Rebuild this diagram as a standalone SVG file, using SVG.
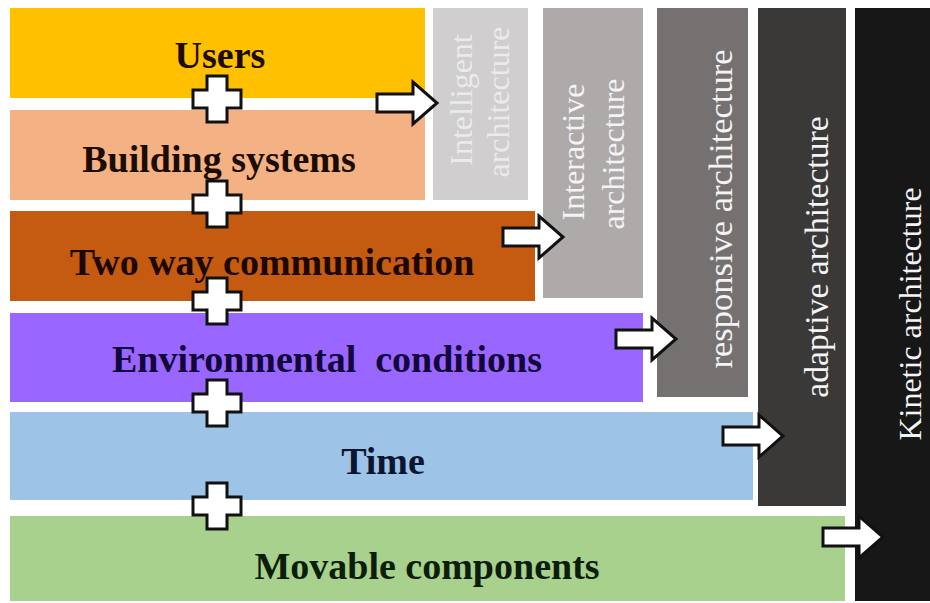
<svg xmlns="http://www.w3.org/2000/svg" width="930" height="603" viewBox="0 0 930 603">
  <style>
    .lbl { font-family: "Liberation Serif", "Times New Roman", serif; font-weight: bold; font-size: 38px; text-anchor: middle; }
    .vlbl { font-family: "Liberation Serif", "Times New Roman", serif; font-size: 32px; text-anchor: middle; fill: #f4f4f4; }
    .faint { fill: #ebebeb; }
    .plus, .arrow { fill: #ffffff; stroke: #111111; stroke-width: 3; stroke-linejoin: miter; }
  </style>
  <defs>
    <path id="plus-shape" d="M -10,-23 H 10 V -9 H 24 V 9 H 10 V 23 H -10 V 9 H -24 V -9 H -10 Z"/>
    <path id="arrow-shape" d="M -60,-9 H -24 V -21 L 0,0 L -24,21 V 9 H -60 Z"/>
  </defs>
  <rect width="930" height="603" fill="#ffffff"/>

  <!-- vertical architecture columns -->
  <g id="kinetic">
    <rect x="855" y="8" width="75" height="593" fill="#171717"/>
    <text class="vlbl" transform="translate(921,314) rotate(-90)">Kinetic architecture</text>
  </g>
  <g id="adaptive">
    <rect x="758" y="8" width="88" height="498" fill="#3b3838"/>
    <text class="vlbl" style="font-size:33.7px" transform="translate(828,257) rotate(-90)">adaptive architecture</text>
  </g>
  <g id="responsive">
    <rect x="657" y="8" width="91" height="389" fill="#767171"/>
    <text class="vlbl" style="font-size:34.5px" transform="translate(732,209) rotate(-90)">responsive architecture</text>
  </g>
  <g id="interactive">
    <rect x="543" y="8" width="100" height="290" fill="#aeaaaa"/>
    <text class="vlbl" transform="translate(584,152) rotate(-90)">Interactive</text>
    <text class="vlbl" transform="translate(624,154) rotate(-90)">architecture</text>
  </g>
  <g id="intelligent">
    <rect x="433" y="8" width="95" height="192" fill="#d0cece"/>
    <text class="vlbl faint" transform="translate(472,100) rotate(-90)">Intelligent</text>
    <text class="vlbl faint" transform="translate(509,102) rotate(-90)">architecture</text>
  </g>

  <!-- horizontal factor bars -->
  <g id="users">
    <rect x="10" y="8" width="415" height="90" fill="#ffc000"/>
    <text class="lbl" x="220" y="68" fill="#1c0c00">Users</text>
  </g>
  <g id="building-systems">
    <rect x="10" y="110" width="415" height="90" fill="#f4b183"/>
    <text class="lbl" x="219" y="172" fill="#1c0c00">Building systems</text>
  </g>
  <g id="two-way-communication">
    <rect x="10" y="211" width="525" height="90" fill="#c55a11"/>
    <text class="lbl" x="272" y="275" fill="#1c0800">Two way communication</text>
  </g>
  <g id="environmental-conditions">
    <rect x="10" y="313" width="633" height="89" fill="#9966ff"/>
    <text class="lbl" x="327" y="372" fill="#12063a" xml:space="preserve">Environmental  conditions</text>
  </g>
  <g id="time">
    <rect x="10" y="412" width="743" height="88" fill="#9dc3e6"/>
    <text class="lbl" x="383" y="474" fill="#0a1630">Time</text>
  </g>
  <g id="movable-components">
    <rect x="10" y="516" width="835" height="85" fill="#a9d18e"/>
    <text class="lbl" x="427" y="579" fill="#0c1e0a">Movable components</text>
  </g>

  <!-- connectors: plus signs between factors, arrows into architecture types -->
  <g id="connectors">
    <use href="#plus-shape" class="plus" x="217" y="99"/>
    <use href="#plus-shape" class="plus" x="217" y="204"/>
    <use href="#plus-shape" class="plus" x="217" y="301"/>
    <use href="#plus-shape" class="plus" x="217" y="403"/>
    <use href="#plus-shape" class="plus" x="217" y="506"/>

    <use href="#arrow-shape" class="arrow" x="437" y="103"/>
    <use href="#arrow-shape" class="arrow" x="563" y="237"/>
    <use href="#arrow-shape" class="arrow" x="676" y="339"/>
    <use href="#arrow-shape" class="arrow" x="783" y="436"/>
    <use href="#arrow-shape" class="arrow" x="883" y="537"/>
  </g>
</svg>
